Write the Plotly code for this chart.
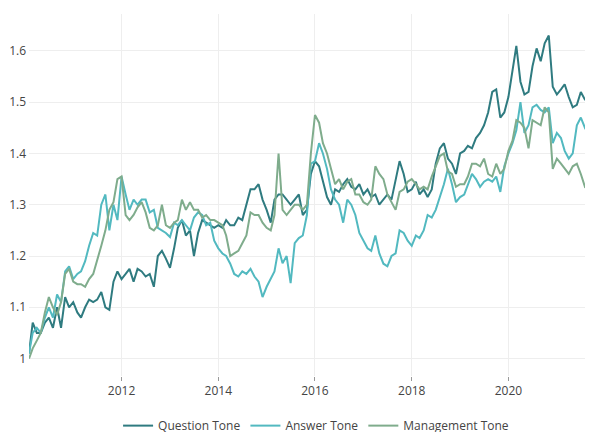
import pandas as pd
import plotly.graph_objects as go

start_date = "2010-02-01"
n_points = 141
dates = pd.date_range(start=start_date, periods=n_points, freq="MS")

question_tone = [
    1.01, 1.07, 1.05, 1.05, 1.07, 1.08, 1.06, 1.10, 1.06, 1.12,
    1.10, 1.11, 1.09, 1.08, 1.10, 1.115, 1.11, 1.115, 1.13, 1.10,
    1.095, 1.15, 1.17, 1.155, 1.165, 1.175, 1.15, 1.175, 1.17, 1.16,
    1.165, 1.14, 1.20, 1.21, 1.195, 1.177, 1.215, 1.255, 1.27, 1.24,
    1.25, 1.20, 1.245, 1.27, 1.265, 1.26, 1.255, 1.26, 1.255, 1.27,
    1.26, 1.26, 1.275, 1.27, 1.30, 1.33, 1.33, 1.34, 1.31, 1.29,
    1.265, 1.31, 1.32, 1.32, 1.31, 1.30, 1.31, 1.32, 1.28, 1.29,
    1.36, 1.385, 1.375, 1.345, 1.315, 1.30, 1.33, 1.325, 1.34, 1.35,
    1.335, 1.33, 1.34, 1.32, 1.33, 1.315, 1.32, 1.30, 1.31, 1.32,
    1.31, 1.35, 1.385, 1.36, 1.325, 1.33, 1.345, 1.32, 1.33, 1.315,
    1.33, 1.38, 1.41, 1.42, 1.39, 1.38, 1.36, 1.40, 1.405, 1.415,
    1.41, 1.43, 1.44, 1.455, 1.48, 1.52, 1.525, 1.47, 1.48, 1.51,
    1.56, 1.61, 1.54, 1.515, 1.52, 1.57, 1.605, 1.58, 1.615, 1.63,
    1.53, 1.515, 1.525, 1.535, 1.51, 1.49, 1.495, 1.52, 1.505, 1.50,
    1.49,
]

answer_tone = [
    1.01, 1.05, 1.06, 1.05, 1.08, 1.10, 1.08, 1.125, 1.11, 1.17,
    1.18, 1.155, 1.165, 1.17, 1.19, 1.22, 1.245, 1.24, 1.30, 1.32,
    1.25, 1.30, 1.27, 1.355, 1.32, 1.29, 1.31, 1.30, 1.31, 1.31,
    1.285, 1.29, 1.255, 1.25, 1.245, 1.237, 1.265, 1.26, 1.27, 1.26,
    1.25, 1.275, 1.285, 1.28, 1.26, 1.265, 1.23, 1.215, 1.205, 1.20,
    1.185, 1.165, 1.16, 1.17, 1.165, 1.175, 1.16, 1.15, 1.12, 1.14,
    1.155, 1.17, 1.215, 1.186, 1.20, 1.147, 1.225, 1.235, 1.24, 1.28,
    1.38, 1.385, 1.42, 1.40, 1.37, 1.33, 1.31, 1.30, 1.265, 1.31,
    1.30, 1.28, 1.245, 1.23, 1.215, 1.21, 1.24, 1.205, 1.185, 1.18,
    1.20, 1.205, 1.25, 1.245, 1.23, 1.22, 1.24, 1.235, 1.25, 1.28,
    1.275, 1.29, 1.315, 1.34, 1.37, 1.34, 1.305, 1.315, 1.32, 1.34,
    1.36, 1.35, 1.335, 1.345, 1.35, 1.345, 1.355, 1.325, 1.375, 1.40,
    1.42, 1.445, 1.50, 1.44, 1.455, 1.49, 1.495, 1.485, 1.48, 1.49,
    1.42, 1.44, 1.43, 1.405, 1.39, 1.40, 1.455, 1.47, 1.45, 1.46,
    1.40,
]

management_tone = [
    1.00, 1.02, 1.035, 1.05, 1.09, 1.12, 1.10, 1.085, 1.11, 1.165,
    1.175, 1.15, 1.145, 1.145, 1.14, 1.155, 1.165, 1.19, 1.22, 1.25,
    1.29, 1.305, 1.35, 1.355, 1.28, 1.27, 1.28, 1.295, 1.305, 1.285,
    1.255, 1.25, 1.26, 1.30, 1.26, 1.255, 1.265, 1.27, 1.31, 1.29,
    1.305, 1.29, 1.29, 1.275, 1.28, 1.27, 1.27, 1.265, 1.26, 1.24,
    1.20, 1.205, 1.21, 1.225, 1.24, 1.285, 1.28, 1.28, 1.265, 1.255,
    1.25, 1.28, 1.40, 1.29, 1.28, 1.29, 1.30, 1.30, 1.29, 1.30,
    1.40, 1.475, 1.46, 1.42, 1.40, 1.37, 1.34, 1.35, 1.33, 1.345,
    1.35, 1.32, 1.32, 1.305, 1.30, 1.31, 1.375, 1.36, 1.35, 1.32,
    1.305, 1.29, 1.325, 1.33, 1.345, 1.35, 1.34, 1.33, 1.335, 1.33,
    1.355, 1.375, 1.395, 1.40, 1.365, 1.36, 1.335, 1.34, 1.34, 1.355,
    1.38, 1.38, 1.375, 1.39, 1.36, 1.355, 1.38, 1.36, 1.37, 1.405,
    1.425, 1.465, 1.46, 1.45, 1.41, 1.465, 1.46, 1.455, 1.49, 1.48,
    1.37, 1.39, 1.38, 1.37, 1.36, 1.375, 1.38, 1.36, 1.335, 1.34,
    1.335,
]

series_names = ["Question Tone", "Answer Tone", "Management Tone"]
series_colors = ["#2f7b80", "#52b9c0", "#7fac8c"]
series_values = [question_tone, answer_tone, management_tone]

fig = go.Figure()
for name, color, vals in zip(series_names, series_colors, series_values):
    fig.add_trace(go.Scatter(x=dates, y=vals, mode="lines", name=name,
                             line=dict(color=color, width=2)))

# The page adds an 8px body margin, so the figure is laid out relative to (8, 8).
fig.update_layout(
    width=593, height=432,
    margin=dict(l=21, r=8, t=6, b=64, autoexpand=False),
    paper_bgcolor="white", plot_bgcolor="white",
    font=dict(family="Open Sans, verdana, arial, sans-serif", size=12, color="#444"),
    showlegend=True,
    legend=dict(orientation="h", x=0.509, xanchor="center", y=-0.097, yanchor="top",
                font=dict(size=12, color="#444")),
)
fig.update_xaxes(range=[dates[0], dates[-1]], showgrid=True, gridcolor="#eeeeee",
                 dtick="M24", tick0="2012-01-01", ticks="outside", ticklen=4,
                 tickcolor="#999", zeroline=False, showline=False, automargin=False)
fig.update_yaxes(range=[0.966, 1.672], showgrid=True, gridcolor="#eeeeee",
                 dtick=0.1, tick0=1.0, zeroline=False, showline=False,
                 automargin=False, ticklabelstandoff=2)

fig.write_html("out.html")
